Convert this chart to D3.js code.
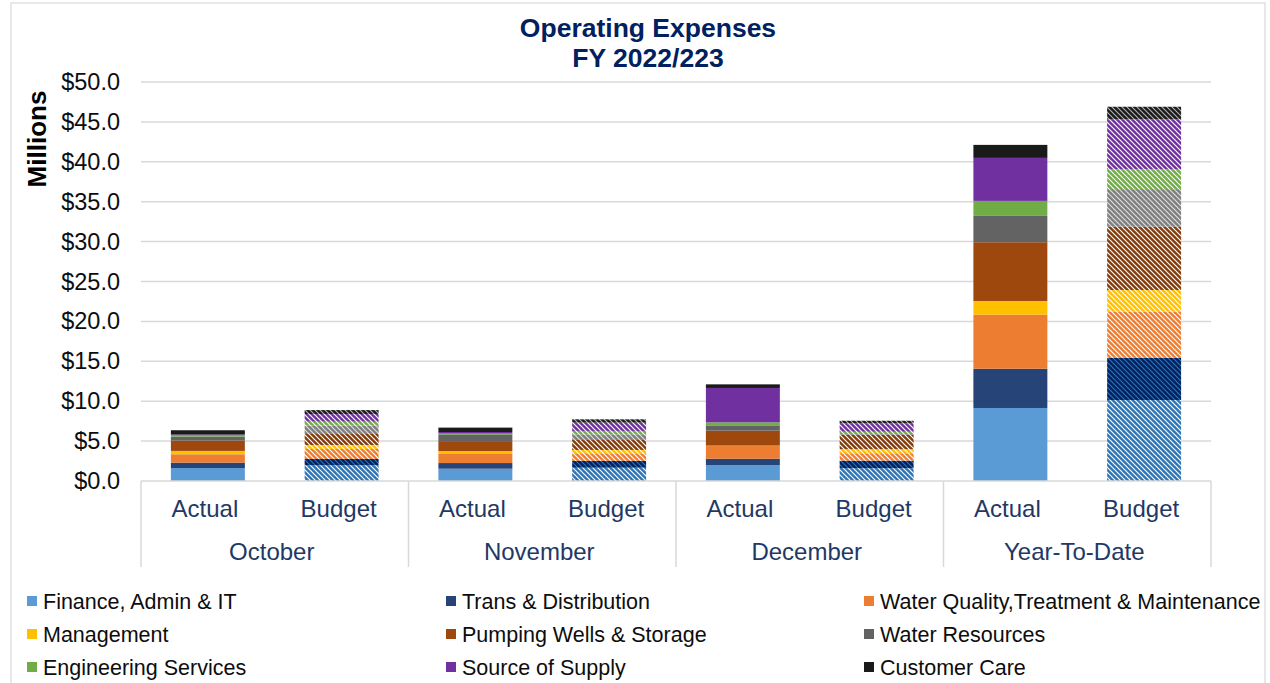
<!DOCTYPE html>
<html>
<head>
<meta charset="utf-8">
<script src="https://cdn.jsdelivr.net/npm/d3@7"></script>
<style>
  body { margin: 0; background: #fff; }
  svg { display: block; font-family: "Liberation Sans", Arial, sans-serif; }
</style>
</head>
<body>
<svg id="chart" width="1270" height="683"></svg>
<script>
/* chart data (millions of dollars) */
const months = ["October", "November", "December", "Year-To-Date"];
const kinds = ["Actual", "Budget"];
const seriesNames = [
    "Finance, Admin & IT",
    "Trans & Distribution",
    "Water Quality,Treatment & Maintenance",
    "Management",
    "Pumping Wells & Storage",
    "Water Resources",
    "Engineering Services",
    "Source of Supply",
    "Customer Care"
];
/* each row: OctA, OctB, NovA, NovB, DecA, DecB, YTD-A, YTD-B */
const finance      = [1.63, 1.97, 1.54, 1.67, 2.00, 1.60, 9.15, 10.15];
const transDist    = [0.67, 0.79, 0.71, 0.84, 0.79, 0.95, 4.92, 5.30];
const waterQuality = [1.05, 1.25, 1.21, 0.96, 1.59, 0.93, 6.77, 5.76];
const management   = [0.42, 0.50, 0.29, 0.42, 0.05, 0.50, 1.72, 2.72];
const pumping      = [1.30, 1.47, 1.25, 1.25, 1.88, 1.80, 7.36, 7.93];
const waterRes     = [0.50, 0.95, 0.84, 0.71, 0.66, 0.10, 3.30, 4.72];
const engineering  = [0.20, 0.50, 0.10, 0.42, 0.38, 0.29, 1.88, 2.51];
const sourceSupply = [0.05, 0.96, 0.20, 1.04, 4.31, 1.05, 5.39, 6.23];
const customerCare = [0.54, 0.50, 0.55, 0.42, 0.45, 0.33, 1.63, 1.58];
const yTicks = [0, 5, 10, 15, 20, 25, 30, 35, 40, 45, 50];

const allSeries = [finance, transDist, waterQuality, management, pumping, waterRes, engineering, sourceSupply, customerCare];

/* solid colours for actuals, colour + stripe for budget hatches */
const actualColors = ["#5b9bd5", "#264478", "#ed7d31", "#ffc000", "#9e480e", "#636363", "#70ad47", "#7030a0", "#1a1a1a"];
const budgetColors = ["#2e75b6", "#002060", "#ed7d31", "#ffc000", "#843c0c", "#7f7f7f", "#70ad47", "#7030a0", "#1a1a1a"];
const stripeColors = ["#ffffff", "#2e75b6", "#ffffff", "#ffffff", "#ffffff", "#e0e0e0", "#ffffff", "#ffffff", "#b0b0b0"];

const svg = d3.select("#chart");

/* outer frame */
svg.append("rect")
    .attr("x", 11).attr("y", 3)
    .attr("width", 1254).attr("height", 700)
    .attr("fill", "none")
    .attr("stroke", "#d9d9d9")
    .attr("stroke-width", 1.2);

/* hatch patterns for budget bars */
const defs = svg.append("defs");
budgetColors.forEach((c, i) => {
    const p = defs.append("pattern")
        .attr("id", "hatch" + i)
        .attr("patternUnits", "userSpaceOnUse")
        .attr("width", 5).attr("height", 5);
    p.append("rect").attr("width", 5).attr("height", 5).attr("fill", c);
    p.append("path")
        .attr("d", "M-1,-1 L6,6 M-1,4 L1,6 M4,-1 L6,1")
        .attr("stroke", stripeColors[i])
        .attr("stroke-width", 1.15);
});

/* plot area */
const plotLeft = 141, plotRight = 1211, plotTop = 82, plotBottom = 481;

const y = d3.scaleLinear().domain([0, 50]).range([plotBottom, plotTop]);

const barKeys = [];
months.forEach(m => kinds.forEach(k => barKeys.push(m + "|" + k)));

const x = d3.scaleBand()
    .domain(barKeys)
    .range([plotLeft, plotRight])
    .paddingInner(0.447)
    .paddingOuter(0.2235);

const xGroup = d3.scaleBand().domain(months).range([plotLeft, plotRight]);

/* gridlines */
svg.append("g").selectAll("line")
    .data(yTicks.filter(t => t > 0))
    .enter().append("line")
    .attr("x1", plotLeft).attr("x2", plotRight)
    .attr("y1", d => y(d)).attr("y2", d => y(d))
    .attr("stroke", "#d9d9d9")
    .attr("stroke-width", 1.5);

/* y tick labels */
svg.append("g").selectAll("text")
    .data(yTicks)
    .enter().append("text")
    .attr("x", 120)
    .attr("y", d => y(d) + 8)
    .attr("text-anchor", "end")
    .attr("font-size", "23.5px")
    .attr("fill", "#0d0d0d")
    .text(d => "$" + d.toFixed(1));

/* y title */
svg.append("text")
    .attr("transform", "translate(46,139) rotate(-90)")
    .attr("text-anchor", "middle")
    .attr("font-size", "26px")
    .attr("font-weight", "bold")
    .attr("fill", "#000")
    .text("Millions");

/* stacked bars */
const table = barKeys.map((key, i) => {
    const row = { key: key, budget: key.endsWith("Budget") };
    seriesNames.forEach((s, j) => { row[s] = allSeries[j][i]; });
    return row;
});
const stacked = d3.stack().keys(seriesNames)(table);

stacked.forEach((layer, si) => {
    svg.append("g").selectAll("rect")
        .data(layer)
        .enter().append("rect")
        .attr("x", d => x(d.data.key))
        .attr("width", x.bandwidth())
        .attr("y", d => y(d[1]))
        .attr("height", d => y(d[0]) - y(d[1]))
        .attr("fill", d => d.data.budget ? "url(#hatch" + si + ")" : actualColors[si]);
});

/* x axis: baseline and group separators */
const axisG = svg.append("g");
axisG.append("line")
    .attr("x1", plotLeft).attr("x2", plotRight)
    .attr("y1", plotBottom).attr("y2", plotBottom)
    .attr("stroke", "#d9d9d9").attr("stroke-width", 1.5);
axisG.selectAll("line.sep")
    .data(months.map(m => xGroup(m)).concat([plotRight]))
    .enter().append("line")
    .attr("class", "sep")
    .attr("x1", d => d).attr("x2", d => d)
    .attr("y1", plotBottom).attr("y2", 567)
    .attr("stroke", "#d9d9d9").attr("stroke-width", 1.5);

axisG.selectAll("text.kind")
    .data(barKeys)
    .enter().append("text")
    .attr("class", "kind")
    .attr("x", d => x(d) + x.bandwidth() / 2 - 3)
    .attr("y", 517)
    .attr("text-anchor", "middle")
    .attr("font-size", "24px")
    .attr("fill", "#1f3864")
    .text(d => d.split("|")[1]);

axisG.selectAll("text.month")
    .data(months)
    .enter().append("text")
    .attr("class", "month")
    .attr("x", d => xGroup(d) + xGroup.bandwidth() / 2 - 3)
    .attr("y", 560)
    .attr("text-anchor", "middle")
    .attr("font-size", "24px")
    .attr("fill", "#1f3864")
    .text(d => d);

/* title */
const title = svg.append("text")
    .attr("text-anchor", "middle")
    .attr("font-size", "26.5px")
    .attr("font-weight", "bold")
    .attr("fill", "#002060");
title.append("tspan").attr("x", 648).attr("y", 37).text("Operating Expenses");
title.append("tspan").attr("x", 648).attr("y", 67).text("FY 2022/223");

/* legend, 3 columns */
const legendCols = [27, 446, 864];
const legendRows = [601, 634, 667];
const legend = svg.append("g").selectAll("g")
    .data(seriesNames)
    .enter().append("g")
    .attr("transform", (d, i) => "translate(" + legendCols[i % 3] + "," + legendRows[Math.floor(i / 3)] + ")");
legend.append("rect")
    .attr("x", 0).attr("y", -5)
    .attr("width", 10).attr("height", 10)
    .attr("fill", (d, i) => actualColors[i]);
legend.append("text")
    .attr("x", 16).attr("y", 7.5)
    .attr("font-size", "21.5px")
    .attr("fill", "#0d0d0d")
    .text(d => d);
</script>
</body>
</html>
